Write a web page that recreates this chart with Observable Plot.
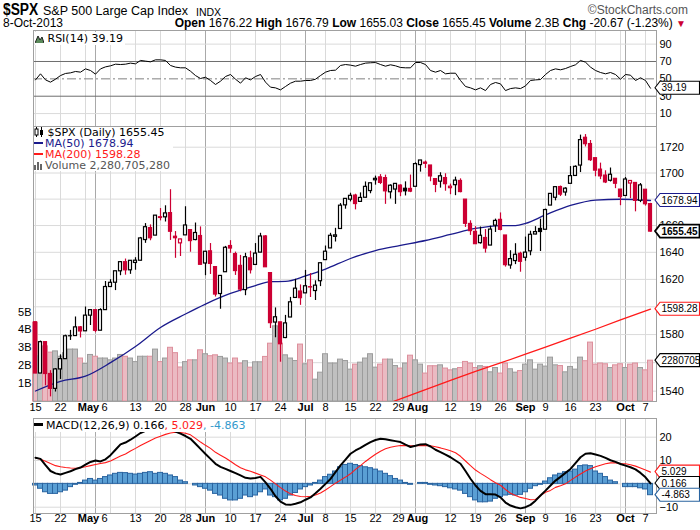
<!DOCTYPE html>
<html><head><meta charset="utf-8">
<script src="https://cdn.jsdelivr.net/npm/d3@7"></script>
<script src="https://cdn.jsdelivr.net/npm/@observablehq/plot@0.6"></script>
<style>
body{margin:0;background:#fff}
#wrap{position:relative;width:700px;height:530px;overflow:hidden;background:#fff;font-family:"Liberation Sans",Arial,sans-serif;color:#000}
#wrap>svg,#wrap>div{position:absolute}
.leg{font-family:"DejaVu Sans",Verdana,sans-serif;font-size:11px;line-height:11px;background:#fff;white-space:nowrap}
.leg div{height:11px}
</style></head><body><div id="wrap"></div>
<script>
// ---------------- data ----------------
const days = ["2013-04-15","2013-04-16","2013-04-17","2013-04-18","2013-04-19","2013-04-22","2013-04-23","2013-04-24","2013-04-25","2013-04-26",
"2013-04-29","2013-04-30","2013-05-01","2013-05-02","2013-05-03","2013-05-06","2013-05-07","2013-05-08","2013-05-09","2013-05-10",
"2013-05-13","2013-05-14","2013-05-15","2013-05-16","2013-05-17","2013-05-20","2013-05-21","2013-05-22","2013-05-23","2013-05-24",
"2013-05-28","2013-05-29","2013-05-30","2013-05-31","2013-06-03","2013-06-04","2013-06-05","2013-06-06","2013-06-07","2013-06-10",
"2013-06-11","2013-06-12","2013-06-13","2013-06-14","2013-06-17","2013-06-18","2013-06-19","2013-06-20","2013-06-21","2013-06-24",
"2013-06-25","2013-06-26","2013-06-27","2013-06-28","2013-07-01","2013-07-02","2013-07-03","2013-07-05","2013-07-08","2013-07-09",
"2013-07-10","2013-07-11","2013-07-12","2013-07-15","2013-07-16","2013-07-17","2013-07-18","2013-07-19","2013-07-22","2013-07-23",
"2013-07-24","2013-07-25","2013-07-26","2013-07-29","2013-07-30","2013-07-31","2013-08-01","2013-08-02","2013-08-05","2013-08-06",
"2013-08-07","2013-08-08","2013-08-09","2013-08-12","2013-08-13","2013-08-14","2013-08-15","2013-08-16","2013-08-19","2013-08-20",
"2013-08-21","2013-08-22","2013-08-23","2013-08-26","2013-08-27","2013-08-28","2013-08-29","2013-08-30","2013-09-03","2013-09-04",
"2013-09-05","2013-09-06","2013-09-09","2013-09-10","2013-09-11","2013-09-12","2013-09-13","2013-09-16","2013-09-17","2013-09-18",
"2013-09-19","2013-09-20","2013-09-23","2013-09-24","2013-09-25","2013-09-26","2013-09-27","2013-09-30","2013-10-01","2013-10-02",
"2013-10-03","2013-10-04","2013-10-07","2013-10-08"];

const opens = [1588.84,1552.36,1574.57,1552.03,1541.61,1555.25,1562.50,1578.78,1578.93,1585.16,
1582.34,1593.58,1597.55,1582.77,1597.60,1614.40,1617.55,1625.95,1632.69,1626.69,
1632.10,1633.75,1649.13,1658.07,1652.45,1665.71,1666.20,1669.39,1651.62,1646.67,
1652.63,1656.57,1649.14,1652.13,1631.71,1640.73,1629.05,1609.29,1625.27,1644.67,
1638.64,1629.94,1612.15,1635.52,1630.64,1639.77,1651.83,1624.62,1588.62,1588.77,
1577.52,1592.27,1606.44,1611.12,1609.78,1614.29,1611.48,1618.65,1634.20,1642.89,
1651.56,1657.41,1675.26,1679.59,1682.70,1677.91,1681.05,1686.15,1694.41,1696.63,
1696.06,1685.21,1687.31,1690.32,1687.92,1687.76,1689.42,1706.10,1708.01,1705.79,
1695.30,1693.35,1696.10,1688.37,1690.65,1693.88,1679.61,1661.22,1655.25,1646.81,
1650.66,1645.03,1659.92,1664.29,1652.54,1630.25,1633.50,1638.89,1635.95,1640.72,
1653.28,1657.44,1656.85,1675.11,1681.04,1689.21,1685.04,1691.70,1697.73,1705.74,
1727.34,1722.44,1711.44,1702.60,1698.02,1694.05,1695.52,1687.26,1682.41,1691.90,
1692.35,1678.79,1687.15,1676.22];
const highs = [1588.84,1575.35,1574.57,1554.38,1555.89,1565.55,1579.58,1583.00,1592.64,1585.78,
1599.85,1597.57,1597.55,1598.60,1618.46,1619.77,1626.03,1632.78,1635.01,1633.70,
1636.00,1651.10,1661.49,1660.51,1667.47,1672.84,1674.93,1687.18,1655.50,1649.78,
1674.21,1656.57,1661.91,1658.99,1640.42,1646.53,1629.31,1622.56,1644.40,1648.69,
1640.13,1637.71,1639.25,1640.80,1646.50,1654.19,1652.45,1624.62,1599.19,1588.77,
1593.79,1606.83,1620.07,1615.94,1626.61,1624.26,1618.97,1632.07,1644.68,1654.18,
1657.92,1676.63,1680.19,1684.51,1683.73,1684.75,1693.12,1692.09,1697.61,1698.78,
1698.38,1690.94,1691.85,1690.92,1693.19,1698.43,1707.85,1709.67,1709.24,1705.79,
1695.30,1700.18,1699.42,1691.49,1696.81,1695.52,1679.61,1663.60,1659.18,1658.92,
1656.99,1659.55,1664.85,1669.51,1652.54,1641.18,1646.41,1640.08,1651.35,1655.72,
1659.17,1664.83,1672.40,1684.09,1689.13,1689.97,1688.73,1704.95,1705.52,1729.44,
1729.86,1725.23,1711.44,1707.63,1701.71,1703.85,1695.52,1687.26,1696.55,1693.87,
1692.35,1691.94,1687.15,1676.79];
const lows = [1552.28,1552.36,1543.69,1536.03,1539.40,1548.19,1562.50,1575.80,1578.93,1577.56,
1582.34,1586.50,1581.28,1582.77,1597.60,1614.21,1611.80,1622.70,1623.09,1623.71,
1626.74,1633.75,1646.68,1648.60,1652.45,1663.52,1662.67,1648.86,1635.53,1636.88,
1652.63,1640.05,1648.61,1630.74,1622.72,1623.62,1607.09,1598.23,1625.27,1639.26,
1622.92,1610.92,1608.07,1623.96,1630.34,1639.77,1628.91,1584.32,1577.70,1560.33,
1577.09,1592.27,1606.44,1601.06,1609.78,1606.77,1604.57,1614.71,1634.20,1642.89,
1647.66,1657.41,1672.33,1677.89,1671.84,1677.89,1681.05,1684.08,1690.67,1691.13,
1676.03,1680.07,1676.03,1681.86,1682.42,1684.94,1689.42,1700.68,1703.55,1693.29,
1684.91,1688.38,1686.02,1683.35,1682.62,1684.83,1658.59,1652.61,1645.84,1646.08,
1639.43,1645.03,1654.81,1656.02,1629.05,1627.47,1630.88,1625.27,1633.41,1637.41,
1653.07,1640.62,1656.85,1675.11,1678.70,1681.96,1682.22,1691.70,1697.73,1700.35,
1720.20,1708.89,1697.10,1694.90,1691.88,1693.11,1687.99,1674.99,1682.07,1680.34,
1670.36,1677.33,1674.70,1655.03];
const closes = [1552.36,1574.57,1552.01,1541.61,1555.25,1562.50,1578.78,1578.79,1585.16,1582.24,
1593.61,1597.57,1582.70,1597.59,1614.42,1617.50,1625.96,1632.69,1626.67,1633.70,
1633.77,1650.34,1658.78,1650.47,1667.47,1666.29,1669.16,1655.35,1650.51,1649.60,
1660.06,1648.36,1654.41,1630.74,1640.42,1631.38,1608.90,1622.56,1643.38,1642.81,
1626.13,1612.52,1636.36,1626.73,1639.04,1651.81,1628.93,1588.19,1592.43,1573.09,
1588.03,1603.26,1613.20,1606.28,1614.96,1614.08,1615.41,1631.89,1640.46,1652.32,
1652.62,1675.02,1680.19,1682.50,1676.26,1680.91,1689.37,1692.09,1695.53,1692.39,
1685.94,1690.25,1691.65,1685.33,1685.96,1685.73,1706.87,1709.67,1707.14,1697.37,
1690.91,1697.48,1691.42,1689.47,1694.16,1685.39,1661.32,1655.83,1646.06,1652.35,
1642.80,1656.96,1663.50,1656.78,1630.48,1634.96,1638.17,1632.97,1639.77,1653.08,
1655.08,1655.17,1671.71,1683.99,1689.13,1683.42,1687.99,1697.60,1704.76,1725.52,
1722.34,1709.91,1701.84,1697.42,1692.77,1698.67,1691.75,1681.55,1695.00,1693.87,
1678.66,1690.50,1676.12,1655.45];
const prevClose = 1588.85;
// volume in billions of shares
const volumesB = [4.40,2.53,3.08,2.73,2.80,2.50,2.70,2.90,2.90,2.40,
2.10,2.60,2.50,2.40,2.40,2.30,2.40,2.60,2.50,2.40,
2.20,2.50,2.50,2.50,2.90,2.20,2.40,3.00,2.70,1.90,
2.20,2.30,2.30,2.86,2.64,2.53,2.58,2.49,2.40,2.12,
2.40,2.12,2.25,1.89,2.19,2.19,2.49,3.23,4.20,3.23,
2.58,2.40,2.26,3.18,2.08,2.30,1.22,1.61,2.64,2.12,
2.12,2.34,2.26,1.78,2.06,2.17,2.40,2.64,1.89,2.06,
2.34,2.34,1.98,1.84,2.12,2.56,2.30,2.06,1.56,1.97,
1.97,2.02,1.84,1.74,1.80,1.87,2.21,2.12,1.87,1.97,
1.93,1.63,1.87,1.56,2.12,1.80,1.61,1.70,2.06,2.30,
1.78,2.06,1.95,2.45,2.02,1.98,1.63,1.93,1.78,2.45,
2.25,3.29,2.06,2.12,2.08,1.87,2.02,2.08,1.87,2.06,
2.12,1.87,1.74,2.28];
const rsi14 = [48.8,55.8,48.8,46.2,49.6,53.8,56.2,56.9,58.5,57.7,
61.5,59.6,55.4,61.5,63.8,65.0,66.9,66.5,66.9,68.1,
67.3,71.2,70.4,69.6,71.9,71.9,71.2,65.4,63.5,62.7,
62.7,58.8,53.8,50.4,51.9,48.1,43.5,47.3,52.7,55.0,
49.6,45.0,51.2,48.8,52.7,55.0,46.2,40.4,39.6,37.3,
41.2,45.0,47.3,47.3,48.1,48.1,49.6,53.8,57.7,59.6,
60.0,65.4,66.5,65.8,64.6,66.5,68.1,68.5,68.8,66.5,
64.6,66.2,65.0,63.1,62.7,62.7,68.8,68.8,66.5,59.6,
57.7,59.6,55.8,56.5,56.5,48.1,41.2,39.6,37.3,39.6,
36.5,43.5,45.8,44.2,36.5,38.8,39.6,38.8,41.9,48.1,
48.8,49.2,55.0,59.6,61.5,60.4,61.9,64.2,66.2,71.2,
69.2,63.5,59.6,57.3,55.8,57.3,55.0,49.6,55.0,54.2,
48.1,51.2,48.1,39.19];
const macdLine = [11.2,10.7,8.0,5.5,4.5,4.0,4.7,5.4,6.3,7.0,
8.2,9.4,10.0,9.6,10.5,12.3,14.6,16.9,17.7,18.9,
20.3,21.8,22.7,22.9,23.3,23.6,23.6,23.2,22.4,21.5,
20.5,19.3,17.2,15.0,12.8,10.7,8.6,7.3,6.4,5.5,
4.6,3.6,2.6,2.3,2.5,3.0,0.6,-2.1,-5.3,-7.6,
-8.8,-9.0,-8.5,-7.9,-6.8,-5.8,-4.0,-2.1,0.0,2.1,
5.0,7.9,10.4,12.9,14.3,15.4,16.7,17.9,18.8,19.3,
19.1,18.7,18.3,17.9,16.8,15.8,16.3,16.9,17.0,16.0,
14.6,13.6,12.5,11.4,10.0,8.6,5.5,2.2,-0.7,-3.0,
-4.4,-4.5,-4.6,-5.8,-8.0,-9.3,-10.0,-10.5,-10.0,-9.0,
-7.2,-5.0,-2.9,-0.7,1.4,3.0,4.7,6.4,8.9,11.4,
12.9,13.1,12.6,12.0,11.1,10.1,9.4,8.5,7.8,7.1,
6.2,4.7,2.8,0.166];
const signalLine = [11.2,10.5,9.7,8.7,7.8,7.3,7.0,6.8,6.7,6.9,
7.3,7.8,8.3,8.7,9.1,9.8,10.9,11.9,12.8,14.1,
15.2,16.4,17.5,18.6,19.6,20.4,21.2,21.8,22.1,22.0,
21.7,21.0,19.5,17.9,16.5,15.2,13.5,12.3,11.1,9.7,
8.2,6.9,6.0,5.4,4.6,3.8,3.0,1.6,0.0,-1.6,
-3.1,-4.3,-5.0,-5.4,-5.5,-5.3,-4.8,-3.9,-2.6,-1.2,
0.3,1.6,2.9,4.3,6.2,7.8,9.6,11.2,12.7,14.0,
15.0,15.7,16.1,16.4,16.4,16.3,16.3,16.4,16.5,16.3,
15.9,15.4,14.8,14.2,13.3,11.8,9.8,7.8,5.9,4.5,
3.2,1.8,0.5,-0.6,-2.4,-4.0,-5.0,-5.8,-6.3,-6.8,
-6.7,-5.0,-3.6,-2.8,-1.5,-0.8,0.0,1.5,2.9,4.2,
5.5,6.5,7.3,8.0,8.6,9.0,9.0,8.7,8.6,8.2,
7.6,6.8,5.9,5.029];
const macdHist = [-0.7,-2.1,-3.6,-4.3,-4.3,-3.6,-2.9,-1.4,-0.4,0.4,
1.4,2.1,1.4,2.1,2.9,3.6,4.3,4.7,4.6,4.3,
4.0,4.3,4.7,5.0,4.3,4.7,4.3,3.6,2.9,1.4,
0.7,0.0,-0.7,-1.4,-2.1,-2.9,-4.3,-5.0,-6.4,-7.1,
-7.1,-6.4,-5.0,-5.7,-5.0,-3.6,-2.4,-5.0,-5.7,-7.1,
-6.4,-5.0,-3.9,-2.4,-1.4,-0.7,0.4,1.4,2.9,3.9,
5.3,7.1,8.1,8.6,8.1,7.6,7.1,6.7,6.1,5.3,
4.3,3.3,2.1,1.4,0.4,-0.4,0.0,0.4,0.4,-0.4,
-0.7,-1.0,-1.4,-1.9,-2.4,-2.9,-4.3,-5.7,-7.1,-7.9,
-7.9,-7.6,-6.4,-5.7,-5.0,-4.7,-5.0,-4.7,-3.6,-2.1,
-1.0,-0.4,1.0,2.4,3.6,4.3,5.0,5.3,6.1,7.6,
7.9,7.6,5.3,4.3,2.9,1.4,0.7,0.0,-1.4,-1.4,
-1.4,-1.9,-2.4,-4.863];
const ma50Days = ["2013-04-15","2013-04-22","2013-04-29","2013-05-06","2013-05-13","2013-05-20","2013-05-28","2013-06-03","2013-06-10","2013-06-17",
"2013-06-20","2013-06-25","2013-07-01","2013-07-08","2013-07-15","2013-07-22","2013-07-29","2013-08-05","2013-08-12","2013-08-19",
"2013-08-26","2013-08-29","2013-09-03","2013-09-09","2013-09-16","2013-09-23","2013-09-30","2013-10-08"];
const ma50Vals = [1540.1,1546.8,1550.5,1560.0,1571.5,1585.1,1594.8,1602.0,1609.7,1615.5,
1618.3,1618.5,1622.5,1627.6,1635.4,1641.3,1645.1,1648.8,1653.3,1657.8,
1660.0,1660.0,1661.6,1668.0,1675.2,1679.3,1679.9,1678.94];
const ma200Days = ["2013-07-24","2013-07-29","2013-08-05","2013-08-12","2013-08-19","2013-08-26","2013-09-03","2013-09-09","2013-09-16","2013-09-23","2013-09-30","2013-10-08"];
const ma200Vals = [1530.8,1534.6,1541.0,1547.6,1553.8,1559.8,1566.0,1571.0,1577.4,1583.8,1590.6,1598.28];
const weekStarts = ["2013-04-15","2013-04-22","2013-04-29","2013-05-06","2013-05-13","2013-05-20","2013-05-28","2013-06-10","2013-06-17","2013-06-24",
"2013-07-08","2013-07-15","2013-07-22","2013-07-29","2013-08-05","2013-08-12","2013-08-19","2013-08-26","2013-09-09","2013-09-16","2013-09-23","2013-09-30","2013-10-07"];
const monthStarts = ["2013-05-01","2013-06-03","2013-07-01","2013-08-01","2013-09-03","2013-10-01"];
const dayTickDays = ["2013-04-15","2013-04-22","2013-05-13","2013-05-20","2013-05-28","2013-06-10","2013-06-17","2013-06-24","2013-07-08","2013-07-15","2013-07-22","2013-08-12","2013-08-19","2013-08-26","2013-09-09","2013-09-16","2013-09-23","2013-10-07"];
const dayTickLabels = ["15","22","13","20","28","10","17","24","8","15","22","12","19","26","9","16","23","7"];
const monthTickDays = ["2013-06-03","2013-07-01","2013-09-03","2013-10-01"];
const monthTickLabels = ["Jun","Jul","Sep","Oct"];
// labels that sit tight against a neighbouring label
const mayTick = {day:"2013-05-01", label:"May"}, may6Tick = {day:"2013-05-06", label:"6"};
const jul29Tick = {day:"2013-07-29", label:"29"}, augTick = {day:"2013-08-01", label:"Aug"};
const priceGrid = [1540,1560,1580,1600,1620,1640,1660,1680,1700,1720];
const priceLabels = [1540,1580,1620,1640,1660,1700,1720];
const volTicks = [1e9,2e9,3e9,4e9,5e9];
const rsiTicks = [10,30,50,70,90];
const macdGrid = [-10,0,10,20];
const macdLabels = [-10,10,20];

// ---------------- build ----------------
const idx = d => days.indexOf(d);
const RED = "#cc0033", BLACK = "#000";
const rows = days.map((d,i)=>{
  const pc = i===0 ? prevClose : closes[i-1];
  const up = closes[i] >= pc;
  return {i, o:opens[i], h:highs[i], l:lows[i], c:closes[i], v:volumesB[i]*1e9,
    col: up ? BLACK : RED, hollow: closes[i] > opens[i], up,
    rsi: rsi14[i], macd: macdLine[i], sig: signalLine[i], hist: macdHist[i]};
});
const weekI = weekStarts.map(idx), monthI = monthStarts.map(idx);
const dayTicks = dayTickDays.map((d,k)=>({i:idx(d), label:dayTickLabels[k]}));
const monthTicks = monthTickDays.map((d,k)=>({i:idx(d), label:monthTickLabels[k]}));
const ma50 = ma50Days.map((d,k)=>({i:idx(d), v:ma50Vals[k]}));
const ma200 = ma200Days.map((d,k)=>({i:idx(d), v:ma200Vals[k]}));

const xDomain = [-0.4, 124.2];
const FONT = "'Liberation Sans', Arial, sans-serif";
const common = {width:700, marginLeft:33, marginRight:44, style:{background:"transparent", overflow:"visible", fontFamily:FONT, fontSize:"11px", color:"#000"}};
const GRIDC = "#dadada", MONTHC = "#a9a9a9", FRAMEC = "#a0a0a0";
const vgrid = () => [Plot.ruleX(weekI, {stroke:GRIDC}), Plot.ruleX(monthI, {stroke:MONTHC})];
const tickText = (data, dy, dx, bold) => Plot.text(data, {x:d=>("i" in d ? d.i : idx(d.day)), text:"label", frameAnchor:"bottom", dy, dx, fontSize:11, fontWeight: bold ? "bold" : "normal", fill:"#000"});
const xLabels = (dy) => [
  tickText(dayTicks, dy, 0, false),
  tickText(monthTicks, dy, 0, true),
  tickText([mayTick], dy, -7, true),
  tickText([may6Tick], dy, -6, false),
  tickText([jul29Tick], dy, -2, false),
  tickText([augTick], dy, 2, true)
];
const wrap = document.getElementById("wrap");
function place(el, top){ el.style.top = top + "px"; el.style.left = "0px"; wrap.appendChild(el); return el; }
function tag(svg, y, label, color, bold){
  const g = d3.select(svg).append("g");
  const x0 = 655, h = 6.5;
  g.append("path").attr("d", `M${x0},${y}L${x0+5},${y-h}H699.5V${y+h}H${x0+5}Z`)
    .attr("fill","#fff").attr("stroke",color).attr("stroke-width", bold?1.8:1.1);
  g.append("text").attr("x", x0+6.5).attr("y", y+3.6).attr("font-size", 10).attr("font-family", FONT)
    .attr("font-weight", bold?"bold":"normal").attr("fill","#000").attr("text-anchor","start").text(label);
}

// RSI panel
const rsiPlot = Plot.plot({...common, height:96, marginTop:0, marginBottom:0,
  x:{domain:xDomain, axis:null},
  y:{domain:[-4.9,105.7], axis:"right", ticks:rsiTicks, tickSize:0, tickPadding:3, label:null},
  marks:[
    ...vgrid(),
    Plot.ruleY([90,10], {stroke:GRIDC}),
    Plot.ruleY([70,30], {stroke:"#6e6e6e"}),
    Plot.ruleY([50], {stroke:"#808080", strokeDasharray:"9,3,2,3"}),
    Plot.frame({stroke:FRAMEC}),
    Plot.line(rows, {x:"i", y:"rsi", stroke:"#000", strokeWidth:1})
  ]});
place(rsiPlot, 30);
tag(rsiPlot, rsiPlot.scale("y").apply(rsi14[rsi14.length-1]), "39.19", "#000", false);

// main panel: grid layer
const priceY = {type:"log", domain:[1532.8,1736.2]};
const gridPlot = Plot.plot({...common, height:292, marginTop:0, marginBottom:17,
  x:{domain:xDomain, axis:null}, y:{...priceY, axis:null},
  marks:[...vgrid(), Plot.ruleY(priceGrid, {stroke:GRIDC})]});
place(gridPlot, 126);

// volume layer
const volPlot = Plot.plot({...common, height:292, marginTop:0, marginBottom:17,
  x:{domain:xDomain, axis:null},
  y:{domain:[0,15.36e9], axis:"left", ticks:volTicks, tickFormat:d=>d/1e9+"B", tickSize:0, tickPadding:2, label:null},
  marks:[
    Plot.rectY(rows, {x1:d=>d.i-0.5, x2:d=>d.i+0.5, y:"v",
      fill:d=>d.up?"#c0c0c0":"#ebbac2", stroke:d=>d.up?"#9c9c9c":"#dd8f9c", strokeWidth:1})
  ]});
place(volPlot, 126);

// price layer
const pricePlot = Plot.plot({...common, height:292, marginTop:0, marginBottom:17,
  x:{domain:xDomain, axis:null},
  y:{...priceY, axis:"right", ticks:priceLabels, tickFormat:d=>String(d), tickSize:0, tickPadding:3, label:null},
  marks:[
    Plot.frame({stroke:FRAMEC}),
    Plot.line(ma200, {x:"i", y:"v", stroke:"#ff1a1a", strokeWidth:1.3, clip:true}),
    Plot.line(ma50, {x:"i", y:"v", stroke:"#1a1a8c", strokeWidth:1.3, curve:"monotone-x"}),
    Plot.ruleX(rows, {x:"i", y1:"l", y2:"h", stroke:"col", strokeWidth:1.2}),
    Plot.rect(rows, {x1:d=>d.i-0.3, x2:d=>d.i+0.3, y1:d=>Math.min(d.o,d.c), y2:d=>Math.max(d.o,d.c),
      fill:d=>d.hollow?"#fff":d.col, stroke:"col", strokeWidth:1.2}),
    ...xLabels(9)
  ]});
place(pricePlot, 126);
const py = pricePlot.scale("y").apply, vy = volPlot.scale("y").apply;
tag(pricePlot, py(1678.94), "1678.94", "#1a1a8c", false);
tag(pricePlot, py(1598.28), "1598.28", "#ff1a1a", false);
tag(pricePlot, vy(2280705280), "2280705", "#000", false);
tag(pricePlot, py(closes[closes.length-1]), "1655.45", "#000", true);

// MACD panel
const macdPlot = Plot.plot({...common, height:112, marginTop:0, marginBottom:17,
  x:{domain:xDomain, axis:null},
  y:{domain:[-12.7,28.0], axis:"right", ticks:macdLabels, tickSize:0, tickPadding:3, label:null},
  marks:[
    ...vgrid(),
    Plot.ruleY(macdGrid, {stroke:GRIDC}),
    Plot.rectY(rows, {x1:d=>d.i-0.5, x2:d=>d.i+0.5, y:"hist", fill:"#5a9fd4", stroke:"#2a64a0", strokeWidth:1}),
    Plot.frame({stroke:FRAMEC}),
    Plot.line(rows, {x:"i", y:"sig", stroke:"#ff1a1a", strokeWidth:1.1}),
    Plot.line(rows, {x:"i", y:"macd", stroke:"#000", strokeWidth:2}),
    ...xLabels(8)
  ]});
place(macdPlot, 418);
const my = macdPlot.scale("y").apply;
tag(macdPlot, my(5.029), "5.029", "#ff1a1a", false);
tag(macdPlot, my(0.166), "0.166", "#000", false);
tag(macdPlot, my(-4.863), "-4.863", "#2a64a0", false);

// ---------------- text overlays ----------------
function div(html, style){ const d = document.createElement("div"); d.innerHTML = html; d.setAttribute("style", "position:absolute;"+style); wrap.appendChild(d); return d; }
div("$SPX", "left:3px;top:1px;font:bold 16px "+FONT+";transform:scaleX(0.86);transform-origin:0 0;");
div("S&amp;P 500 Large Cap Index", "left:43px;top:4px;font:12.5px "+FONT+";white-space:nowrap;");
div("INDX", "left:196px;top:6px;font:10.5px "+FONT+";");
div("&copy;StockCharts.com", "right:12px;top:3px;font:12px "+FONT+";color:#555;white-space:nowrap;");
div("8-Oct-2013", "left:3px;top:16px;font:12px "+FONT+";");
div("<b>Open</b> 1676.22 <b>High</b> 1676.79 <b>Low</b> 1655.03 <b>Close</b> 1655.45 <b>Volume</b> 2.3B <b>Chg</b> -20.67 (-1.23%) <span style='color:#cc0033;font-size:10px'>&#9660;</span>",
  "right:14px;top:16px;font:12px "+FONT+";white-space:nowrap;");
div("<svg width='9' height='9' style='vertical-align:-1px'><path d='M0,9L3,2L5,6L7,3L9,9Z' fill='#5a8a5a'/><path d='M0,9L3,2L5,6L7,3L9,9' fill='none' stroke='#222'/></svg> RSI(14) 39.19",
  "left:35px;top:32px;font:11px 'DejaVu Sans',Verdana,sans-serif;background:#fff;white-space:nowrap;padding-right:2px;");
div("<div><svg width='10' height='10' style='vertical-align:-1px'><line x1='2.5' y1='0' x2='2.5' y2='10' stroke='#000'/><rect x='1' y='2' width='3' height='6' fill='#fff' stroke='#000'/><line x1='7.5' y1='0' x2='7.5' y2='10' stroke='#000'/><rect x='6' y='3' width='3' height='5' fill='#000'/></svg> $SPX (Daily) 1655.45</div>"+
  "<div style='color:#1a1a8c'><span style='display:inline-block;width:9px;height:2px;background:#1a1a8c;vertical-align:3px;margin-right:2px'></span>MA(50) 1678.94</div>"+
  "<div style='color:#ff1a1a'><span style='display:inline-block;width:9px;height:2px;background:#ff1a1a;vertical-align:3px;margin-right:2px'></span>MA(200) 1598.28</div>"+
  "<div style='color:#555'><svg width='10' height='9' style='vertical-align:-1px;margin-right:1px'><rect x='0' y='4' width='2' height='5' fill='#666'/><rect x='3' y='1' width='2' height='8' fill='#666'/><rect x='6' y='3' width='2' height='6' fill='#666'/></svg>Volume 2,280,705,280</div>",
  "left:34px;top:127px;padding-right:3px;").className = "leg";
div("<span style='display:inline-block;width:9px;height:3px;background:#000;vertical-align:3px;margin-right:3px'></span>MACD(12,26,9) 0.166<span style='color:#ff1a1a'>, 5.029</span><span style='color:#3399cc'>, -4.863</span>",
  "left:34px;top:419px;font:11px 'DejaVu Sans',Verdana,sans-serif;background:#fff;white-space:nowrap;padding-right:2px;");
</script></body></html>
